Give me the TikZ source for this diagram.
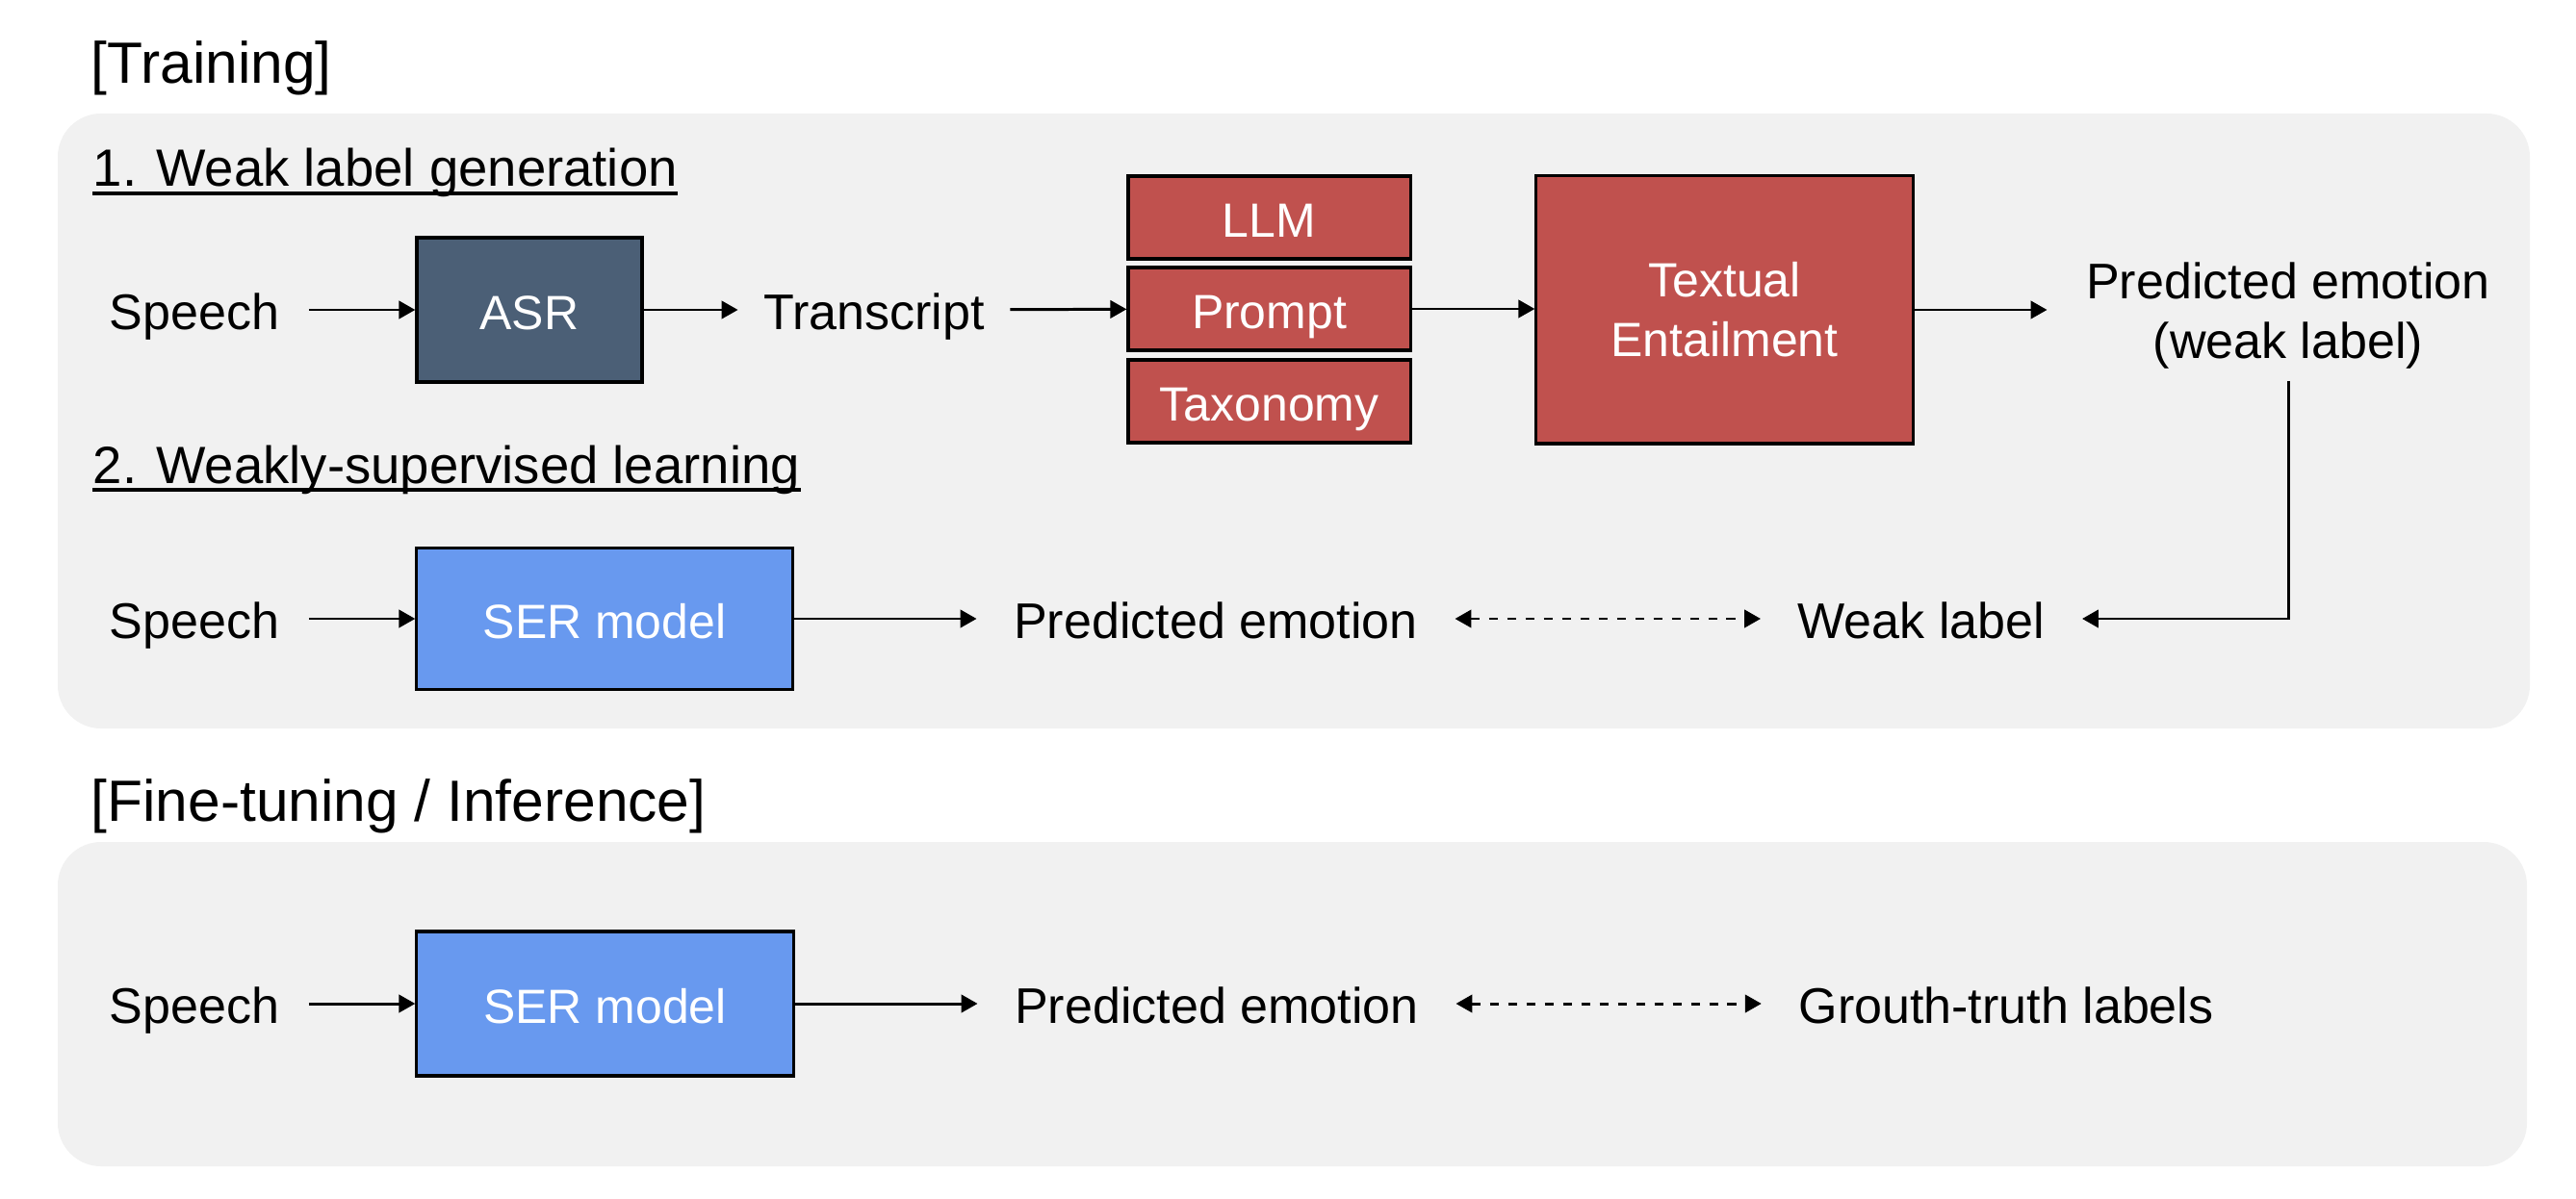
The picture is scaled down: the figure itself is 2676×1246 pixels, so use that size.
\documentclass[tikz,border=0pt]{standalone}
\usepackage{fontspec}
\setmainfont{Liberation Sans}
\usetikzlibrary{arrows.meta}
\definecolor{bgpanel}{HTML}{F1F1F1}
\definecolor{asrfill}{HTML}{4B5F76}
\definecolor{serfill}{HTML}{6899EF}
\definecolor{redfill}{HTML}{C0514E}
\newcommand\myBody{\fontsize{14.8pt}{17.6pt}\selectfont}
\newcommand\myBox{\fontsize{14.2pt}{17.6pt}\selectfont}
\newcommand\mySub{\fontsize{15.5pt}{18pt}\selectfont}
\newcommand\myTitle{\fontsize{17.2pt}{20pt}\selectfont}
\begin{document}
\begin{tikzpicture}[x=0.01cm,y=-0.01cm,
  panel/.style={fill=bgpanel,draw=none,rounded corners=0.45cm},
  box/.style={draw=black,line width=0.9pt,text=white,font=\myBox,inner sep=0pt,align=center},
  onebox/.style={box,text height=11.7pt,text depth=0pt},
  txt/.style={font=\myBody,text=black,inner xsep=0.38cm,inner ysep=0pt,text height=11.9pt,text depth=0pt},
  arr/.style={-{Triangle[length=4.8pt,width=5.2pt]},line width=0.85pt},
  darr/.style={{Triangle[length=4.8pt,width=5.2pt]}-{Triangle[length=4.8pt,width=5.2pt]},line width=0.85pt,dash pattern=on 2.8pt off 2.6pt}]
\useasboundingbox (0,0) rectangle (2676,1246);
\fill[white] (0,0) rectangle (2676,1246);
% panels
\path[panel] (60,118) rectangle (2628,757);
\path[panel] (60,875) rectangle (2625,1212);
% titles
\node[anchor=base west,inner sep=0pt,font=\myTitle] (t1) at (94,87) {[Training]};
\node[anchor=base west,inner sep=0pt,font=\myTitle] (t2) at (94,853) {[Fine-tuning / Inference]};
\node[anchor=base west,inner sep=0pt,font=\mySub] (h1) at (96,194) {1. Weak label generation};
\draw[line width=0.9pt] ([yshift=-0.07cm]h1.base west) -- ([yshift=-0.07cm]h1.base east);
\node[anchor=base west,inner sep=0pt,font=\mySub] (h2) at (96,502) {2. Weakly-supervised learning};
\draw[line width=0.9pt] ([yshift=-0.07cm]h2.base west) -- ([yshift=-0.07cm]h2.base east);
% row 1
\node[txt,inner xsep=0.3cm] (sp1) at (202,322) {Speech};
\node[onebox,fill=asrfill,minimum width=2.34cm,minimum height=1.50cm] (asr) at (550,322) {ASR};
\node[txt,inner xsep=0.26cm] (tr) at (908,322) {Transcript};
\node[onebox,fill=redfill,minimum width=2.93cm,minimum height=0.86cm] (llm) at (1318.5,226) {LLM};
\node[onebox,fill=redfill,minimum width=2.93cm,minimum height=0.86cm] (prompt) at (1318.5,321) {Prompt};
\node[onebox,fill=redfill,minimum width=2.93cm,minimum height=0.86cm] (tax) at (1318.5,417) {Taxonomy};
\node[box,fill=redfill,minimum width=3.91cm,minimum height=2.78cm] (te) at (1791.5,322) {Textual\\Entailment};
\node[font=\myBody,align=center,inner xsep=0.4cm,inner ysep=0pt] (pred1) at (2377,328) {Predicted emotion\\(weak label)};
\draw[arr] (sp1) -- (asr);
\draw[arr] (asr) -- (tr);
\draw[arr] (tr) -- (prompt);
\draw[arr] (prompt.east) -- (prompt.east -| te.west);
\draw[arr] (te.east) -- (te.east -| pred1.west);
% row 2
\node[txt,inner xsep=0.3cm] (sp2) at (202,643) {Speech};
\node[onebox,fill=serfill,minimum width=3.90cm,minimum height=1.47cm] (ser2) at (628,643) {SER model};
\node[txt] (pred2) at (1263,643) {Predicted emotion};
\node[txt] (weak) at (1996,643) {Weak label};
\draw[arr] (sp2) -- (ser2);
\draw[arr] (ser2) -- (pred2);
\draw[darr] (pred2) -- (weak);
\draw[arr] ([yshift=-0.12cm]pred1.south) |- (weak.east);
% fine-tuning row
\node[txt,inner xsep=0.3cm] (sp3) at (202,1043) {Speech};
\node[onebox,fill=serfill,minimum width=3.91cm,minimum height=1.50cm] (ser3) at (628.5,1043) {SER model};
\node[txt] (pred3) at (1264,1043) {Predicted emotion};
\node[txt] (gt) at (2084,1043) {Grouth-truth labels};
\draw[arr] (sp3) -- (ser3);
\draw[arr] (ser3) -- (pred3);
\draw[darr] (pred3) -- (gt);
\end{tikzpicture}
\end{document}
